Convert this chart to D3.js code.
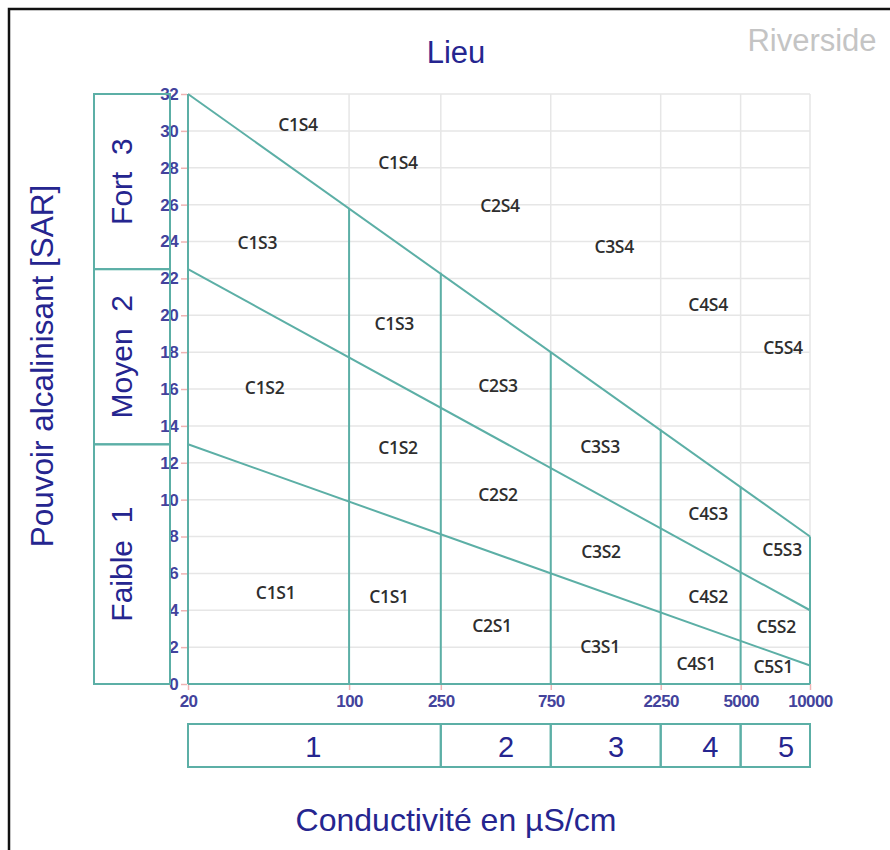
<!DOCTYPE html>
<html>
<head>
<meta charset="utf-8">
<script src="https://cdn.jsdelivr.net/npm/d3@7"></script>
<style>
  body { margin: 0; background: #fff; }
  text { font-family: "Liberation Sans", Arial, sans-serif; }
</style>
</head>
<body>
<div id="chart"></div>
<script>
// Data
const conductivityTicks = [20, 100, 250, 750, 2250, 5000, 10000];
const sarTicks = [0, 2, 4, 6, 8, 10, 12, 14, 16, 18, 20, 22, 24, 26, 28, 30, 32];

// sodium hazard boundary lines (SAR at 20 and at 10000 µS/cm)
const boundaryLines = [
  { name: 'S1/S2', from: [20, 13], to: [10000, 1] },
  { name: 'S2/S3', from: [20, 22.5], to: [10000, 4] },
  { name: 'S3/S4', from: [20, 32], to: [10000, 8] }
];

// salinity class boundaries and the SAR where each stops
const classBounds = [20, 100, 250, 750, 2250, 5000, 10000];
const classBoundTops = [32, 25.8, 22.3, 18.0, 13.8, 10.7, 8];

// salinity classes in the bottom strip
const salinityClasses = ['1', '2', '3', '4', '5'];
const salinityEdges = [20, 250, 750, 2250, 5000, 10000];
const salinityLabelAt = [70, 480, 1440, 3690, 7870];

// sodium classes on the left
const sodiumClasses = ['Faible  1', 'Moyen  2', 'Fort  3'];
const sodiumEdges = [0, 13, 22.5, 32];

// region labels
const regionNames = ['C1S4', 'C1S4', 'C2S4', 'C3S4', 'C4S4', 'C5S4',
  'C1S3', 'C1S3', 'C2S3', 'C3S3', 'C4S3', 'C5S3',
  'C1S2', 'C1S2', 'C2S2', 'C3S2', 'C4S2', 'C5S2',
  'C1S1', 'C1S1', 'C2S1', 'C3S1', 'C4S1', 'C5S1'];
const regionX = [60, 163, 452, 1413, 3614, 7640,
  40, 157, 443, 1228, 3614, 7570,
  43, 163, 443, 1240, 3614, 7130,
  48, 149, 417, 1228, 3206, 6920];
const regionY = [30.4, 28.3, 26.0, 23.75, 20.6, 18.3,
  24.0, 19.6, 16.2, 12.9, 9.3, 7.3,
  16.1, 12.85, 10.3, 7.2, 4.8, 3.15,
  5.0, 4.8, 3.2, 2.06, 1.14, 0.98];

// Dimensions
const dimensions = {
  width: 890,
  height: 850,
  left: 188,
  right: 810,
  top: 94,
  bottom: 684
};

const teal = '#5cafa6';
const navy = '#25258f';
const tickColor = '#43439c';

// Scales
const xScale = d3.scaleLog()
  .domain([20, 10000])
  .range([dimensions.left, dimensions.right]);

const yScale = d3.scaleLinear()
  .domain([0, 32])
  .range([dimensions.bottom, dimensions.top]);

const svg = d3.select('#chart')
  .append('svg')
  .attr('width', dimensions.width)
  .attr('height', dimensions.height);

// frame (top and left only)
svg.append('path')
  .attr('d', `M9,850 V9 H890`)
  .attr('fill', 'none')
  .attr('stroke', '#111')
  .attr('stroke-width', 2.5);

// grid
const grid = svg.append('g');
grid.selectAll('line.h')
  .data(sarTicks)
  .join('line')
  .attr('class', 'h')
  .attr('x1', dimensions.left)
  .attr('x2', dimensions.right)
  .attr('y1', d => yScale(d))
  .attr('y2', d => yScale(d))
  .attr('stroke', '#e6e6e6')
  .attr('stroke-width', 1.5);

grid.selectAll('line.v')
  .data(conductivityTicks)
  .join('line')
  .attr('class', 'v')
  .attr('x1', d => xScale(d))
  .attr('x2', d => xScale(d))
  .attr('y1', dimensions.top)
  .attr('y2', dimensions.bottom)
  .attr('stroke', '#e6e6e6')
  .attr('stroke-width', 1.5);

// axes
const yAxis = d3.axisLeft(yScale)
  .tickValues(sarTicks)
  .tickSize(6)
  .tickPadding(3);

const xAxis = d3.axisBottom(xScale)
  .tickValues(conductivityTicks)
  .tickFormat(d => d)
  .tickSize(6)
  .tickPadding(4);

const yAxisGroup = svg.append('g')
  .attr('transform', `translate(${dimensions.left - 1},0)`)
  .call(yAxis);

const xAxisGroup = svg.append('g')
  .attr('transform', `translate(0,${dimensions.bottom + 1})`)
  .call(xAxis);

[yAxisGroup, xAxisGroup].forEach(g => {
  g.attr('font-size', null).attr('font-family', null);
  g.select('.domain').remove();
  g.selectAll('.tick line').attr('stroke', '#efb4b4').attr('stroke-width', 1.5);
  g.selectAll('.tick text')
    .attr('fill', tickColor)
    .style('font-size', '17px')
    .style('font-weight', 'bold')
    .style('letter-spacing', '-0.6px');
});
xAxisGroup.selectAll('.tick line').attr('transform', 'translate(0,-1)');

// boundary lines
svg.append('g')
  .selectAll('line')
  .data(boundaryLines)
  .join('line')
  .attr('x1', d => xScale(d.from[0]))
  .attr('y1', d => yScale(d.from[1]))
  .attr('x2', d => xScale(d.to[0]))
  .attr('y2', d => yScale(d.to[1]))
  .attr('stroke', teal)
  .attr('stroke-width', 2);

// class verticals
svg.append('g')
  .selectAll('line')
  .data(classBounds)
  .join('line')
  .attr('x1', d => xScale(d))
  .attr('x2', d => xScale(d))
  .attr('y1', yScale(0))
  .attr('y2', (d, i) => yScale(classBoundTops[i]))
  .attr('stroke', teal)
  .attr('stroke-width', 2);

// bottom axis line
svg.append('line')
  .attr('x1', xScale(20))
  .attr('x2', xScale(10000))
  .attr('y1', yScale(0))
  .attr('y2', yScale(0))
  .attr('stroke', teal)
  .attr('stroke-width', 2);

// region labels
svg.append('g')
  .selectAll('text')
  .data(regionNames)
  .join('text')
  .attr('x', (d, i) => xScale(regionX[i]))
  .attr('y', (d, i) => yScale(regionY[i]))
  .attr('text-anchor', 'middle')
  .attr('dominant-baseline', 'central')
  .attr('fill', '#2e2e2e')
  .style('font-family', '"Open Sans", sans-serif')
  .style('font-size', '17.5px')
  .style('font-weight', '600')
  .style('letter-spacing', '-0.3px')
  .text(d => d);

// left sodium boxes
const boxLeft = 94, boxRight = 170;
const sodium = svg.append('g');
sodium.selectAll('rect')
  .data(sodiumClasses)
  .join('rect')
  .attr('x', boxLeft)
  .attr('width', boxRight - boxLeft)
  .attr('y', (d, i) => yScale(sodiumEdges[i + 1]))
  .attr('height', (d, i) => yScale(sodiumEdges[i]) - yScale(sodiumEdges[i + 1]))
  .attr('fill', 'none')
  .attr('stroke', teal)
  .attr('stroke-width', 2);

sodium.selectAll('text')
  .data(sodiumClasses)
  .join('text')
  .attr('transform', (d, i) => {
    const cy = (yScale(sodiumEdges[i]) + yScale(sodiumEdges[i + 1])) / 2;
    return `translate(121,${cy}) rotate(-90)`;
  })
  .attr('text-anchor', 'middle')
  .attr('dominant-baseline', 'central')
  .attr('fill', navy)
  .style('font-size', '30px')
  .style('white-space', 'pre')
  .text(d => d);

// bottom salinity boxes
const stripTop = 724, stripBottom = 767;
const salinity = svg.append('g');
salinity.selectAll('rect')
  .data(salinityClasses)
  .join('rect')
  .attr('x', (d, i) => xScale(salinityEdges[i]))
  .attr('width', (d, i) => xScale(salinityEdges[i + 1]) - xScale(salinityEdges[i]))
  .attr('y', stripTop)
  .attr('height', stripBottom - stripTop)
  .attr('fill', 'none')
  .attr('stroke', teal)
  .attr('stroke-width', 2);

salinity.selectAll('text')
  .data(salinityClasses)
  .join('text')
  .attr('x', (d, i) => xScale(salinityLabelAt[i]))
  .attr('y', (stripTop + stripBottom) / 2 + 1)
  .attr('text-anchor', 'middle')
  .attr('dominant-baseline', 'central')
  .attr('fill', navy)
  .style('font-size', '29px')
  .text(d => d);

// titles
svg.append('text')
  .attr('x', 456)
  .attr('y', 52)
  .attr('text-anchor', 'middle')
  .attr('dominant-baseline', 'central')
  .attr('fill', navy)
  .style('font-size', '31px')
  .text('Lieu');

svg.append('text')
  .attr('x', 812)
  .attr('y', 40)
  .attr('text-anchor', 'middle')
  .attr('dominant-baseline', 'central')
  .attr('fill', '#c4c4c4')
  .style('font-size', '31px')
  .text('Riverside');

svg.append('text')
  .attr('transform', 'translate(42,366) rotate(-90)')
  .attr('text-anchor', 'middle')
  .attr('dominant-baseline', 'central')
  .attr('fill', navy)
  .style('font-size', '31.5px')
  .text('Pouvoir alcalinisant [SAR]');

svg.append('text')
  .attr('x', 456)
  .attr('y', 820)
  .attr('text-anchor', 'middle')
  .attr('dominant-baseline', 'central')
  .attr('fill', navy)
  .style('font-size', '32px')
  .text('Conductivité en µS/cm');
</script>
</body>
</html>
